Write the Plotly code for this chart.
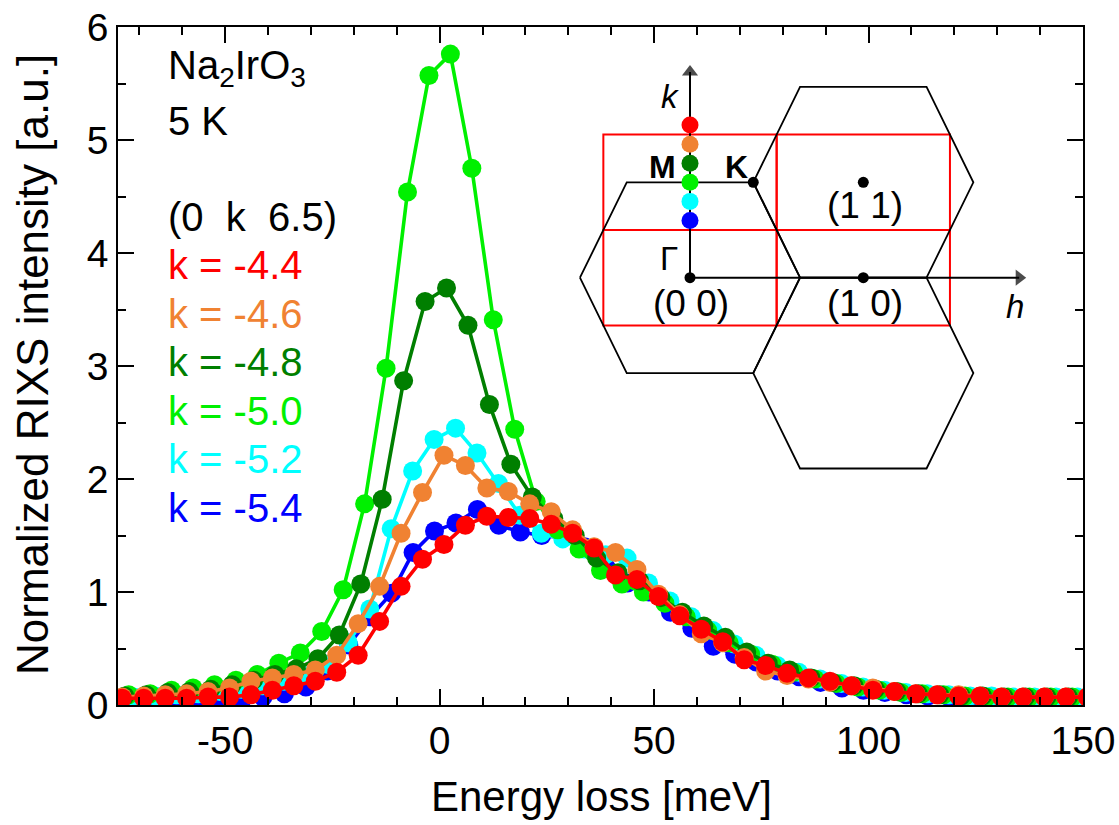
import plotly.graph_objects as go

# ---------------- canvas / layout geometry ----------------
W, H = 1119, 825
ML, MR, MT, MB = 118, 36, 27, 120
PW = W - ML - MR
PH = H - MT - MB


def pxx(x):
    return (x - ML) / PW


def pxy(y):
    return (H - MB - y) / PH


FONT = "Arial, Liberation Sans, sans-serif"

# ---------------- data ----------------
K_VALUES = [-4.4, -4.6, -4.8, -5.0, -5.2, -5.4]
COLORS = ["#FF0000", "#F08232", "#007F00", "#00F000", "#00FFFF", "#0000FF"]

E_RED = [-74, -69, -64, -59, -54, -49, -44, -39, -34, -29, -24, -19, -14, -9, -4, 1, 6, 11, 16, 21,
         26, 31, 36, 41, 46, 51, 56, 61, 66, 71, 76, 81, 86, 91, 96, 101, 106, 111, 116, 121,
         126, 131, 136, 141, 146, 151]
I_RED = [0.06, 0.06, 0.06, 0.06, 0.07, 0.07, 0.09, 0.13, 0.17, 0.21, 0.29, 0.44, 0.74, 1.05, 1.29,
         1.42, 1.59, 1.67, 1.66, 1.65, 1.60, 1.52, 1.39, 1.15, 1.11, 0.96, 0.79, 0.67, 0.56, 0.40,
         0.35, 0.28, 0.24, 0.21, 0.17, 0.13, 0.12, 0.10, 0.09, 0.08, 0.08, 0.07, 0.07, 0.07, 0.07, 0.07]

E_ORANGE = [-74, -69, -64, -59, -54, -49, -44, -39, -34, -29, -24, -19, -14, -9, -4, 1, 6, 11, 16, 21,
            26, 31, 36, 41, 46, 51, 56, 61, 66, 71, 76, 81, 86, 91, 96, 101, 106, 111, 116, 121,
            126, 131, 136, 141, 146, 151]
I_ORANGE = [0.07, 0.08, 0.09, 0.10, 0.12, 0.15, 0.21, 0.24, 0.27, 0.31, 0.44, 0.72, 1.05, 1.52, 1.88,
            2.21, 2.12, 1.92, 1.89, 1.78, 1.71, 1.55, 1.40, 1.35, 1.20, 0.98, 0.80, 0.63, 0.55, 0.42,
            0.30, 0.26, 0.23, 0.20, 0.17, 0.15, 0.12, 0.10, 0.09, 0.09, 0.08, 0.07, 0.07, 0.07, 0.07, 0.07]

E_DKGREEN = [-73.4, -68.4, -63.4, -58.4, -53.4, -48.4, -43.4, -38.4, -33.4, -28.4, -23.4, -18.4, -13.4,
             -8.4, -3.4, 1.6, 6.6, 11.6, 16.6, 21.6, 26.6, 31.6, 36.6, 41.6, 46.6, 51.6, 56.6, 61.6,
             66.6, 71.6, 76.6, 81.6, 86.6, 91.6, 96.6, 101.6, 106.6, 111.6, 116.6, 121.6, 126.6,
             131.6, 136.6, 141.6, 146.6, 151.6]
I_DKGREEN = [0.08, 0.09, 0.11, 0.12, 0.14, 0.18, 0.22, 0.27, 0.32, 0.41, 0.62, 1.07, 1.82, 2.87, 3.57,
             3.69, 3.36, 2.66, 2.13, 1.84, 1.65, 1.50, 1.30, 1.17, 1.10, 0.95, 0.82, 0.70, 0.60, 0.47,
             0.37, 0.31, 0.24, 0.20, 0.17, 0.14, 0.12, 0.10, 0.09, 0.08, 0.08, 0.07, 0.07, 0.07, 0.07, 0.07]

E_GREEN = [-72.5, -67.5, -62.5, -57.5, -52.5, -47.5, -42.5, -37.5, -32.5, -27.5, -22.5, -17.5, -12.5,
           -7.5, -2.5, 2.5, 7.5, 12.5, 17.5, 22.5, 27.5, 32.5, 37.5, 42.5, 47.5, 52.5, 57.5, 62.5,
           67.5, 72.5, 77.5, 82.5, 87.5, 92.5, 97.5, 102.5, 107.5, 112.5, 117.5, 122.5, 127.5,
           132.5, 137.5, 142.5, 147.5, 152.5]
I_GREEN = [0.09, 0.10, 0.13, 0.15, 0.18, 0.22, 0.27, 0.37, 0.46, 0.65, 1.02, 1.78, 2.98, 4.54, 5.57,
           5.76, 4.75, 3.41, 2.44, 1.80, 1.55, 1.38, 1.19, 1.07, 1.00, 0.90, 0.78, 0.66, 0.55, 0.45,
           0.36, 0.29, 0.23, 0.19, 0.16, 0.13, 0.11, 0.10, 0.09, 0.08, 0.07, 0.07, 0.07, 0.07, 0.07, 0.07]

E_CYAN = [-71.3, -66.3, -61.3, -56.3, -51.3, -46.3, -41.3, -36.3, -31.3, -26.3, -21.3, -16.3, -11.3,
          -6.3, -1.3, 3.7, 8.7, 13.7, 18.7, 23.7, 28.7, 33.7, 38.7, 43.7, 48.7, 53.7, 58.7, 63.7,
          68.7, 73.7, 78.7, 83.7, 88.7, 93.7, 98.7, 103.7, 108.7, 113.7, 118.7, 123.7, 128.7,
          133.7, 138.7, 143.7, 148.7, 153.7]
I_CYAN = [0.07, 0.08, 0.09, 0.10, 0.12, 0.14, 0.17, 0.21, 0.26, 0.36, 0.55, 0.85, 1.56, 2.07, 2.35,
          2.45, 2.23, 1.96, 1.68, 1.52, 1.47, 1.38, 1.33, 1.30, 1.08, 0.92, 0.78, 0.66, 0.54, 0.44,
          0.35, 0.29, 0.23, 0.19, 0.16, 0.13, 0.11, 0.10, 0.09, 0.08, 0.08, 0.07, 0.07, 0.07, 0.07, 0.07]

E_BLUE = [-71.2, -66.2, -61.2, -56.2, -51.2, -46.2, -41.2, -36.2, -31.2, -26.2, -21.2, -16.2, -11.2,
          -6.2, -1.2, 3.8, 8.8, 13.8, 18.8, 23.8, 28.8, 33.8, 38.8, 43.8, 48.8, 53.8, 58.8, 63.8,
          68.8, 73.8, 78.8, 83.8, 88.8, 93.8, 98.8, 103.8, 108.8, 113.8, 118.8, 123.8, 128.8,
          133.8, 138.8, 143.8, 148.8, 153.8]
I_BLUE = [0.04, 0.04, 0.04, 0.04, 0.04, 0.04, 0.07, 0.10, 0.16, 0.30, 0.53, 0.78, 0.99, 1.35, 1.54,
          1.61, 1.73, 1.59, 1.53, 1.50, 1.48, 1.40, 1.22, 1.08, 1.00, 0.82, 0.68, 0.52, 0.45, 0.38,
          0.30, 0.25, 0.20, 0.15, 0.13, 0.11, 0.09, 0.08, 0.07, 0.06, 0.06, 0.05, 0.05, 0.05, 0.05, 0.05]

ENERGIES = [E_RED, E_ORANGE, E_DKGREEN, E_GREEN, E_CYAN, E_BLUE]
INTENSITIES = [I_RED, I_ORANGE, I_DKGREEN, I_GREEN, I_CYAN, I_BLUE]

X_TICKVALS = [-50, 0, 50, 100, 150]
X_TICKTEXT = ["-50", "0", "50", "100", "150"]
Y_TICKVALS = [0, 1, 2, 3, 4, 5, 6]

# Brillouin-zone sketch (reciprocal lattice units h, k)
HEX_CENTERS = [(0, 0), (1, 1), (1, -1)]
HEX_VERT_H = [-0.635, -0.365, 0.365, 0.635, 0.365, -0.365, -0.635]
HEX_VERT_K = [0, 1, 1, 0, -1, -1, 0]
RECT_CENTERS = [(0, 0), (1, 0), (0, 1), (1, 1)]
BLACK_PTS_H = [0, 0.365, 1, 1]
BLACK_PTS_K = [0, 1, 0, 1]
K_OFFSET = 6.0  # dot position along k = k + 6
K_AXIS_END = 2.23
H_AXIS_END = 1.94

# inset pixel box -> domain and ranges
IX0, IX1, IY0, IY1 = 570, 1040, 50, 480
OX, OY = 690, 277.7
SH, SK = 173.3, 95.4
ARROW_SIZE = 14

fig = go.Figure()

# main curves, drawn so that red ends on top
for i in reversed(range(len(K_VALUES))):
    fig.add_trace(go.Scatter(
        x=ENERGIES[i], y=INTENSITIES[i], mode="lines+markers",
        line=dict(color=COLORS[i], width=3.6),
        marker=dict(color=COLORS[i], size=19, line=dict(width=0)),
        name=f"k = {K_VALUES[i]}", showlegend=False, hoverinfo="skip",
        xaxis="x", yaxis="y"))

# ---------------- inset ----------------
for (ch, ck) in HEX_CENTERS:
    fig.add_trace(go.Scatter(
        x=[ch + v for v in HEX_VERT_H], y=[ck + v for v in HEX_VERT_K],
        mode="lines", line=dict(color="black", width=1.8),
        showlegend=False, hoverinfo="skip", xaxis="x2", yaxis="y2"))

# axes of the sketch, with filled triangular arrow heads (tip at axis end)
k_back = (ARROW_SIZE / 2) / SK
h_back = (ARROW_SIZE / 2) / SH
fig.add_trace(go.Scatter(x=[0, 0], y=[0, K_AXIS_END - k_back], mode="lines+markers",
                         line=dict(color="black", width=2),
                         marker=dict(symbol="triangle-up", size=[0, ARROW_SIZE], color="black",
                                     line=dict(width=0)),
                         showlegend=False, hoverinfo="skip", xaxis="x2", yaxis="y2"))
fig.add_trace(go.Scatter(x=[0, H_AXIS_END - h_back], y=[0, 0], mode="lines+markers",
                         line=dict(color="black", width=2),
                         marker=dict(symbol="triangle-right", size=[0, ARROW_SIZE], color="black",
                                     line=dict(width=0)),
                         showlegend=False, hoverinfo="skip", xaxis="x2", yaxis="y2"))

fig.add_trace(go.Scatter(x=BLACK_PTS_H, y=BLACK_PTS_K, mode="markers",
                         marker=dict(color="black", size=11),
                         showlegend=False, hoverinfo="skip", xaxis="x2", yaxis="y2"))
fig.add_trace(go.Scatter(x=[0] * len(K_VALUES), y=[k + K_OFFSET for k in K_VALUES], mode="markers",
                         marker=dict(color=COLORS, size=17),
                         showlegend=False, hoverinfo="skip", xaxis="x2", yaxis="y2"))

shapes = []
for (ch, ck) in RECT_CENTERS:
    shapes.append(dict(type="rect", xref="x2", yref="y2", x0=ch - 0.5, x1=ch + 0.5,
                       y0=ck - 0.5, y1=ck + 0.5, line=dict(color="#FF0000", width=2),
                       layer="below"))

annotations = []


def inset_text(t, h, k, size=34, xanchor="center", **kw):
    annotations.append(dict(x=h, y=k, xref="x2", yref="y2", text=t, showarrow=False,
                            xanchor=xanchor, yanchor="middle",
                            font=dict(family=FONT, size=size, color="black"), **kw))


inset_text("<i>k</i>", -0.115, 1.9, size=33)
inset_text("<b>M</b>", -0.07, 1.16, size=32, xanchor="right")
inset_text("<b>K</b>", 0.19, 1.16, size=32, xanchor="left")
inset_text("Γ", -0.12, 0.2, size=33)
inset_text("(0 0)", 0.006, -0.27, size=37)
inset_text("(1 0)", 1.01, -0.27, size=37)
inset_text("(1 1)", 1.01, 0.76, size=37)
inset_text("<i>h</i>", 1.875, -0.3, size=33)

# main text block
TXT_SIZE = 40
main_lines = [("Na<sub>2</sub>IrO<sub>3</sub>", "black", 68),
              ("5 K", "black", 121),
              ("(0  k  6.5)", "black", 217)]
for i, kv in enumerate(K_VALUES):
    main_lines.append((f"k = {kv:.1f}", COLORS[i], 265 + 48.5 * i))
for t, c, y in main_lines:
    annotations.append(dict(x=pxx(166), y=pxy(y), xref="paper", yref="paper", text=t,
                            showarrow=False, xanchor="left", yanchor="middle",
                            font=dict(family=FONT, size=TXT_SIZE, color=c)))

# axis titles
annotations.append(dict(x=pxx(601), y=pxy(797), xref="paper", yref="paper",
                        text="Energy loss [meV]", showarrow=False, xanchor="center", yanchor="middle",
                        font=dict(family=FONT, size=42, color="black")))
annotations.append(dict(x=pxx(32), y=pxy(365), xref="paper", yref="paper",
                        text="Normalized RIXS intensity [a.u.]", showarrow=False, textangle=-90,
                        xanchor="center", yanchor="middle",
                        font=dict(family=FONT, size=44, color="black")))

axis_common = dict(showgrid=False, zeroline=False, showline=True, linecolor="black", linewidth=1.6,
                   mirror="ticks", ticks="inside", tickcolor="black", tickwidth=1.6,
                   tickfont=dict(family=FONT, size=39, color="black"))

fig.update_layout(
    width=W, height=H,
    margin=dict(l=ML, r=MR, t=MT, b=MB, autoexpand=False),
    paper_bgcolor="white", plot_bgcolor="rgba(0,0,0,0)",
    showlegend=False,
    xaxis=dict(range=[-75, 150], tickvals=X_TICKVALS, ticktext=X_TICKTEXT, ticklen=16,
               minor=dict(ticks="inside", ticklen=8, dtick=10, tick0=0, tickcolor="black", tickwidth=1.6,
                          showgrid=False),
               anchor="y", domain=[0, 1], **axis_common),
    yaxis=dict(range=[0, 6], tickvals=Y_TICKVALS, ticklen=16,
               minor=dict(ticks="inside", ticklen=8, dtick=0.5, tick0=0, tickcolor="black", tickwidth=1.6,
                          showgrid=False),
               anchor="x", domain=[0, 1], **axis_common),
    xaxis2=dict(domain=[pxx(IX0), pxx(IX1)], range=[(IX0 - OX) / SH, (IX1 - OX) / SH],
                visible=False, anchor="y2", fixedrange=True),
    yaxis2=dict(domain=[pxy(IY1), pxy(IY0)], range=[(OY - IY1) / SK, (OY - IY0) / SK],
                visible=False, anchor="x2", fixedrange=True),
    shapes=shapes,
    annotations=annotations,
)

fig.write_html("out.html")
